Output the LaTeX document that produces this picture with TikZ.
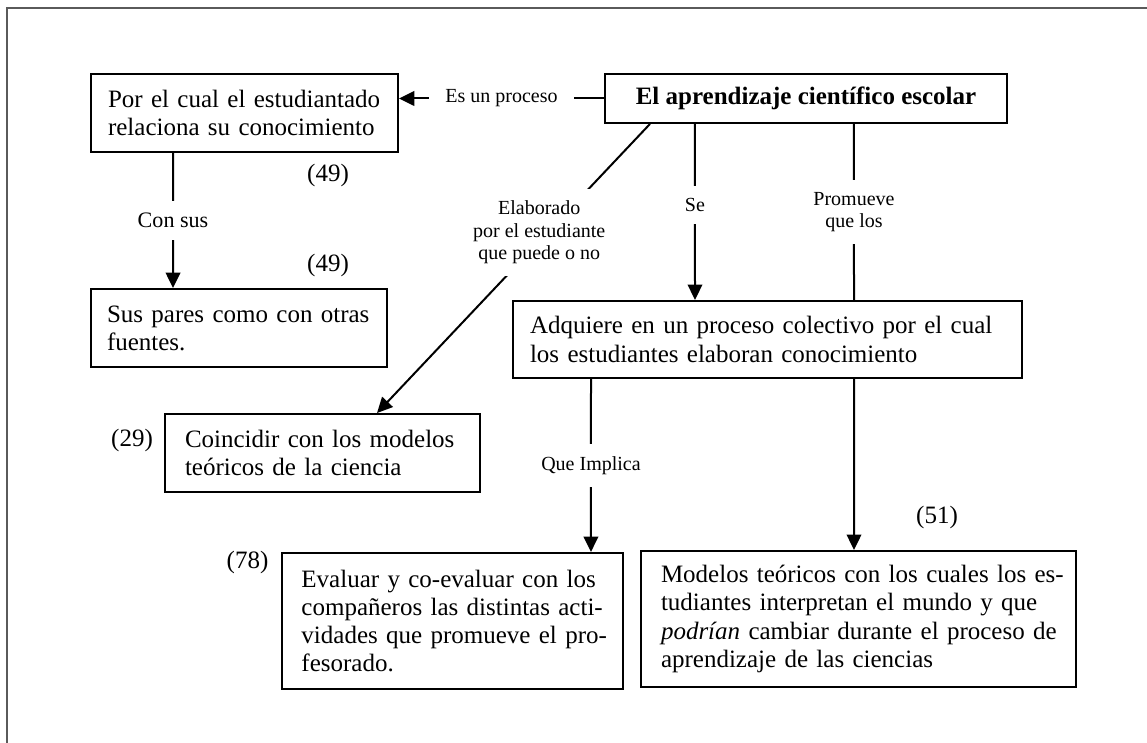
\documentclass[tikz,border=0pt]{standalone}
\usepackage{fontspec}
\setmainfont{Liberation Serif}
\usepackage{tikz}
\usetikzlibrary{positioning,calc,arrows.meta}
\definecolor{framegray}{RGB}{90,90,90}
\newcommand{\jline}[1]{\makebox[\hsize][s]{#1}}

\begin{document}
\begin{tikzpicture}[x=0.48pt,y=-0.48pt,
        >={Triangle[length=7.4pt,width=7pt]},
        concept/.style={draw,line width=0.96pt,inner ysep=0pt,align=left,
            font=\fontsize{12}{13.5}\selectfont,
            execute at begin node={\parindent=0pt}},
        link/.style={line width=0.96pt},
        lbl/.style={fill=white,inner xsep=8pt,inner ysep=5.8pt,
            font=\fontsize{9.6}{10.8}\selectfont},
        ref/.style={inner sep=0pt,font=\fontsize{12}{13.5}\selectfont}]
        \useasboundingbox (0,0) rectangle (1147,743);

        % Frame
        \draw[framegray,line width=0.96pt] (7,743) -- (7,8) -- (1147,8);

        % Concepts
        \node[concept,font=\fontsize{12}{13.5}\selectfont\bfseries,align=center,
            minimum width=193pt,minimum height=23.5pt] (apr) at (806,98.5)
            {El aprendizaje científico escolar};
        \node[concept,text width=131pt,inner xsep=8.16pt,minimum height=37.4pt] (proc) at (244.5,113)
            {Por el cual el estudiantado\\relaciona su conocimiento};
        \node[concept,text width=126.7pt,inner xsep=7.68pt,minimum height=37.4pt] (pares) at (239,328)
            {Sus pares como con otras\\fuentes.};
        \node[concept,text width=132pt,inner xsep=9.6pt,minimum height=37.4pt] (coin) at (322.5,453)
            {\jline{Coincidir con los modelos}\\teóricos de la ciencia};
        \node[concept,text width=228pt,inner xsep=8.16pt,minimum height=37pt] (adq) at (767.5,339.5)
            {\jline{Adquiere en un proceso colectivo por el cual}\\los estudiantes elaboran conocimiento};
        \node[concept,text width=145pt,inner xsep=9.36pt,minimum height=65.3pt] (eval) at (452.5,621)
            {\jline{Evaluar y co-evaluar con los}\\\jline{compañeros las distintas acti-}\\\jline{vidades que promueve el pro-}\\fesorado.};
        \node[concept,text width=189.6pt,inner xsep=9.6pt,minimum height=65.3pt] (mod) at (858.5,619)
            {\jline{Modelos teóricos con los cuales los es-}\\\jline{tudiantes interpretan el mundo y que}\\\jline{\textit{podrían} cambiar durante el proceso de}\\aprendizaje de las ciencias};

        % References
        \node[ref] (r49a) at (328,175) {(49)};
        \node[ref] (r49b) at (328,265) {(49)};
        \node[ref] (r29) at (132,440) {(29)};
        \node[ref] (r78) at (247.5,562) {(78)};
        \node[ref] (r51) at (937,517) {(51)};

        % Links
        \draw[->,link] (apr.west) -- (apr.west -| proc.east) node[lbl,midway] {Es un proceso};
        \draw[->,link] ($(proc.south west)+(83,0)$) -- ($(pares.north west)+(83,0)$)
            node[lbl,midway,font=\fontsize{10.6}{12}\selectfont] {Con sus};
        \draw[->,link] ($(apr.south west)+(46,0)$) -- ($(coin.north west)+(213,0)$)
            node[lbl,pos=0.375,xshift=-4pt,align=center] {Elaborado\\por el estudiante\\que puede o no};
        \draw[->,link] ($(apr.south west)+(91,0)$) -- ($(adq.north west)+(183,0)$)
            node[lbl,pos=0.46] {Se};
        \draw[link] ($(apr.south west)+(250,0)$) -- ($(adq.north west)+(342,0)$)
            node[lbl,midway,align=center] {Promueve\\que los};
        \draw[->,link] ($(adq.south west)+(342,0)$) -- ($(mod.north west)+(214,0)$);
        \draw[->,link] ($(adq.south west)+(79,0)$) -- ($(eval.north west)+(310,0)$) node[lbl,midway] {Que Implica};

    \end{tikzpicture}
\end{document}
